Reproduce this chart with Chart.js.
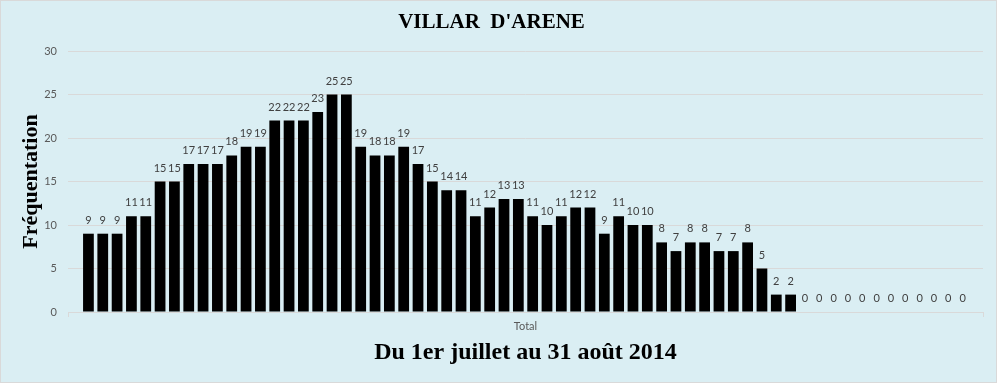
<!DOCTYPE html>
<html>
<head>
<meta charset="utf-8">
<script src="https://cdn.jsdelivr.net/npm/chart.js@4.4.0/dist/chart.umd.min.js"></script>
<style>
  html, body { margin: 0; padding: 0; background: #fff; }
</style>
</head>
<body>
<canvas id="myChart" width="997" height="383"></canvas>
<script>
// one category, one series per day (1 July - 31 August 2014)
const categories = ["Total"];
const values = [9, 9, 9, 11, 11, 15, 15, 17, 17, 17, 18, 19, 19, 22, 22, 22, 23, 25, 25,
  19, 18, 18, 19, 17, 15, 14, 14, 11, 12, 13, 13, 11, 10, 11, 12, 12, 9, 11, 10, 10,
  8, 7, 8, 8, 7, 7, 8, 5, 2, 2, 0, 0, 0, 0, 0, 0, 0, 0, 0, 0, 0, 0];
const yTicks = [0, 5, 10, 15, 20, 25, 30];
const chartTitle = "VILLAR  D'ARENE";
const xTitle = "Du 1er juillet au 31 août 2014";
const yTitle = "Fréquentation";

const datasets = values.map((v, i) => ({
  label: "Jour " + (i + 1),
  data: [v],
  backgroundColor: "#000000",
  borderWidth: 0,
  categoryPercentage: 0.971,
  barPercentage: 0.75,
}));

const frame = {
  id: "frame",
  beforeDraw(chart) {
    const c = chart.ctx;
    c.save();
    c.fillStyle = "#DAEEF3";
    c.fillRect(0, 0, chart.width, chart.height);
    c.strokeStyle = "#D9D9D9";
    c.lineWidth = 1;
    c.strokeRect(0.5, 0.5, chart.width - 1, chart.height - 1);
    c.restore();
  },
};

const valueLabels = {
  id: "valueLabels",
  afterDatasetsDraw(chart) {
    const c = chart.ctx;
    c.save();
    c.font = "11px Lato";
    c.fillStyle = "#404040";
    c.textAlign = "center";
    c.textBaseline = "alphabetic";
    chart.data.datasets.forEach((ds, i) => {
      chart.getDatasetMeta(i).data.forEach((bar, j) => {
        c.fillText(String(ds.data[j]), bar.x, bar.y - 10);
      });
    });
    c.restore();
  },
};

const serif = "'Liberation Serif', 'Times New Roman', serif";

new Chart(document.getElementById("myChart"), {
  type: "bar",
  data: { labels: categories, datasets: datasets },
  options: {
    responsive: false,
    animation: false,
    layout: { padding: { left: 0, right: 14, top: 0, bottom: 0 } },
    plugins: {
      legend: { display: false },
      tooltip: { enabled: false },
      title: {
        display: true,
        text: chartTitle,
        color: "#000000",
        font: { family: serif, size: 21, weight: "bold" },
        padding: { top: 10.4, bottom: 15.4 },
      },
    },
    scales: {
      x: {
        offset: true,
        grid: { display: true, drawOnChartArea: false, offset: true, tickLength: 5, color: "#D9D9D9" },
        border: { color: "#D9D9D9" },
        ticks: { color: "#595959", font: { family: "Lato", size: 11 }, padding: 3 },
        title: {
          display: true,
          text: xTitle,
          color: "#000000",
          font: { family: serif, size: 24, weight: "bold" },
          padding: { top: 0, bottom: 16 },
        },
        afterFit(scale) { scale.height = 71; },
      },
      y: {
        min: 0,
        max: 30,
        afterBuildTicks(scale) { scale.ticks = yTicks.map(v => ({ value: v })); },
        grid: { color: "#D9D9D9", drawTicks: false },
        border: { display: false },
        ticks: { color: "#595959", font: { family: "Lato", size: 11 }, padding: 11 },
        title: {
          display: true,
          text: yTitle,
          color: "#000000",
          font: { family: serif, size: 22, weight: "bold" },
          padding: { top: 18, bottom: 0 },
        },
        afterFit(scale) { scale.width = 68; },
      },
    },
  },
  plugins: [frame, valueLabels],
});
</script>
</body>
</html>
